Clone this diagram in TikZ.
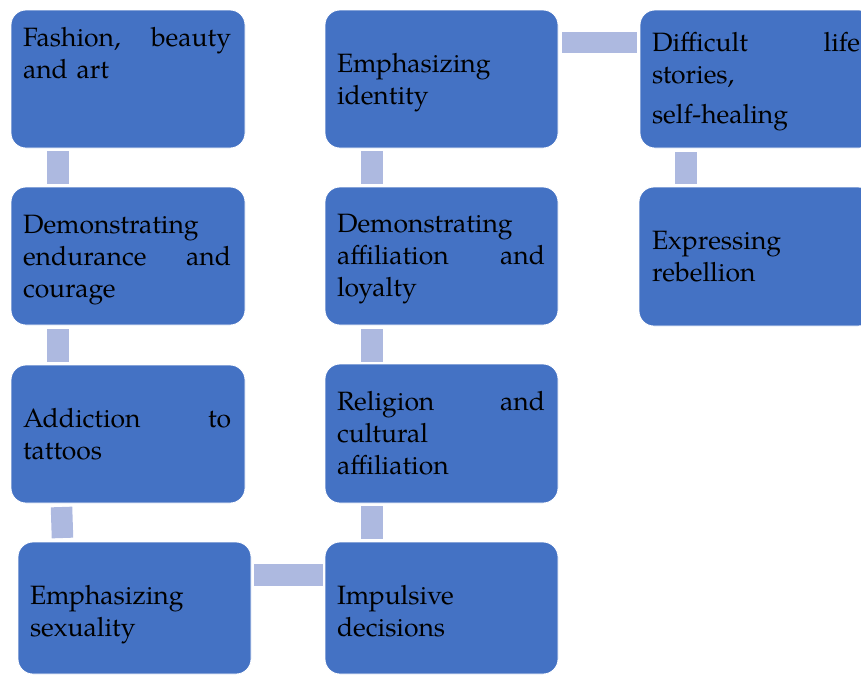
\documentclass[tikz,border=0pt]{standalone}
\usepackage{fontspec}
\setmainfont{TeX Gyre Pagella}
\usetikzlibrary{calc}
\definecolor{boxblue}{RGB}{68,114,196}
\definecolor{connblue}{RGB}{173,185,224}
\tikzset{
  stepbox/.style={draw=white, line width=0.8pt, fill=boxblue, rounded corners=15pt,
    minimum width=234pt, minimum height=138pt, inner sep=0pt, outer sep=0pt},
  txt/.style={anchor=base west, inner sep=0pt, outer sep=0pt, text width=208pt, align=left,
    font=\fontsize{26.5}{32}\selectfont, text=black},
  conn/.style={draw=connblue, line width=21.5pt}
}
\begin{document}
\begin{tikzpicture}[x=1pt,y=-1pt]
\useasboundingbox (0,0) rectangle (861,675);
\clip (0,0) rectangle (861,675);
% boxes
\node[stepbox] (b1) at (128,79) {};
\node[stepbox] (b2) at (128,256) {};
\node[stepbox] (b3) at (128,434) {};
\node[stepbox, minimum width=233pt, minimum height=132pt] (b4) at (134.5,608) {};
\node[stepbox, minimum width=233pt, minimum height=132pt] (b5) at (441.5,608) {};
\node[stepbox, minimum width=233pt, minimum height=139pt] (b6) at (441.5,433.5) {};
\node[stepbox, minimum width=233pt] (b7) at (441.5,256) {};
\node[stepbox, minimum width=233pt] (b8) at (441.5,79) {};
\node[stepbox] (b9) at (757,79) {};
\node[stepbox, minimum height=139pt] (b10) at (756,256.5) {};
% connectors
\draw[conn] ($(b1.south west)+(47,3)$) -- ($(b2.north west)+(47,-3)$);
\draw[conn] ($(b2.south west)+(47,4)$) -- ($(b3.north west)+(47,-3)$);
\draw[conn] ($(b3.south west)+(50.5,4)$) -- ($(b4.north west)+(44.5,-4)$);
\draw[conn] ($(b4.north east)+(3,33)$) -- ($(b5.north west)+(-2,33)$);
\draw[conn] ($(b6.south west)+(47,3)$) -- ($(b5.north west)+(47,-3)$);
\draw[conn] ($(b7.south west)+(47,4)$) -- ($(b6.north west)+(47,-2)$);
\draw[conn] ($(b8.south west)+(47,3)$) -- ($(b7.north west)+(47,-3)$);
\draw[conn] ($(b8.north east)+(4,32.5)$) -- ($(b9.north west)+(-3,32.5)$);
\draw[conn] ($(b9.south west)+(46,4)$) -- ($(b10.north west)+(47,-3)$);
% texts
\node[txt] (t1) at (23,46) {Fashion,\hfill beauty\\and art};
\node[txt] (t2) at (23,233) {Demonstrating\\endurance\hfill and\\courage};
\node[txt] (t3) at (23,427) {Addiction\hfill to\\tattoos};
\node[txt] (t4) at (30,604) {Emphasizing\\sexuality};
\node[txt] (t5) at (337,604) {Impulsive\\decisions};
\node[txt] (t6) at (337,410) {Religion\hfill and\\cultural\\affiliation};
\node[txt] (t7) at (337,232) {Demonstrating\\affiliation\hfill and\\loyalty};
\node[txt] (t8) at (337,72) {Emphasizing\\identity};
\node[txt] (t9) at (652,51) {Difficult\hfill life\\stories,\\[8pt]self-healing};
\node[txt] (t10) at (652,249) {Expressing\\rebellion};
\end{tikzpicture}
\end{document}
